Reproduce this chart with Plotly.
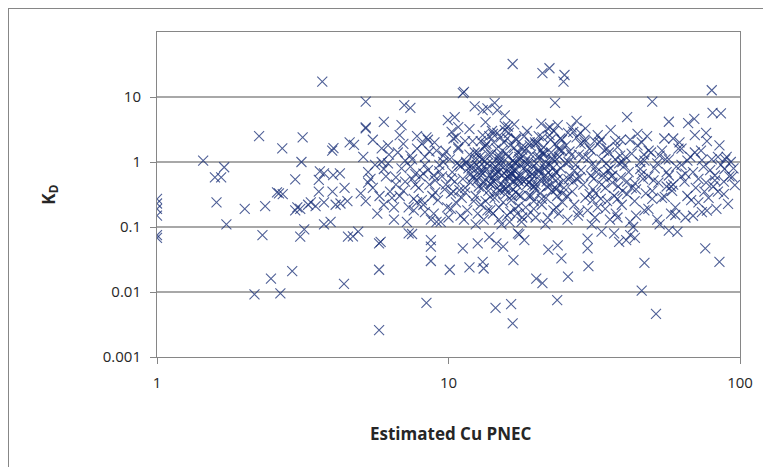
import plotly.graph_objects as go

# ---- data (Estimated Cu PNEC vs K_D) ----
pnec_left = [1.0, 1.0, 1.0, 1.0, 1.0, 1.0,
             1.44, 1.70, 1.58, 1.66, 1.60, 1.73, 2.0,
             2.24, 2.69, 2.35, 2.30, 2.16, 2.46, 2.65, 2.91, 2.62, 2.58, 2.70,
             3.16, 3.13, 2.98, 3.03, 2.98, 3.10, 3.20, 3.10, 3.69, 3.62, 3.74, 3.59, 3.59, 3.37, 3.74, 3.74, 3.94, 3.30, 3.50,
             4.03, 3.99, 4.58, 4.02, 4.24, 4.00, 4.26, 4.50, 4.52, 4.38, 4.90, 4.70, 4.10, 4.40, 4.74]
kd_left = [0.27, 0.23, 0.19, 0.15, 0.075, 0.068,
           1.05, 0.83, 0.58, 0.58, 0.24, 0.11, 0.19,
           2.5, 1.62, 0.21, 0.075, 0.0092, 0.016, 0.0095, 0.021, 0.33, 0.34, 0.32,
           2.4, 1.0, 0.54, 0.20, 0.18, 0.19, 0.092, 0.071, 17.2, 0.72, 0.67, 0.53, 0.35, 0.24, 0.24, 0.11, 0.12, 0.22, 0.21,
           1.63, 1.5, 2.0, 0.63, 0.67, 0.35, 0.23, 0.25, 0.071, 0.0133, 0.085, 0.072, 0.22, 0.40, 1.83]

pnec_f = [5.1, 5.3, 5.5, 5.2, 5.7, 5.9, 6.1, 6.3, 6.0, 6.5,
          6.7, 6.9, 7.1, 6.8, 7.3, 7.5, 7.7, 7.9, 7.6, 7.2,
          5.4, 6.2, 7.0, 7.8, 5.6, 6.6, 7.4, 5.0, 6.4, 7.6]
kd_f = [1.2, 0.7, 0.4, 0.25, 0.16, 1.0, 0.6, 0.35, 0.22, 0.13,
        1.4, 0.8, 0.5, 0.3, 0.2, 1.1, 0.65, 0.4, 0.27, 0.12,
        0.55, 1.8, 1.9, 1.6, 0.9, 0.45, 0.85, 0.33, 0.28, 0.18]

pnec_f2 = [5.3, 5.8, 6.2, 6.6, 7.0, 7.4, 7.8, 8.2, 8.6, 9.0,
           5.5, 6.0, 6.5, 7.1, 7.7, 8.3, 8.9, 6.8, 7.5, 8.1]
kd_f2 = [0.48, 0.3, 0.95, 0.58, 0.36, 1.25, 0.24, 0.66, 1.45, 0.34,
         2.2, 0.78, 0.2, 1.05, 0.45, 0.9, 0.62, 2.6, 0.55, 0.26]

pnec_up = [5.2, 7.05, 7.4, 5.2, 5.2, 6.0, 6.9, 9.95, 10.5, 11.3, 11.2, 13.1, 13.6, 14.4, 14.7, 15.6, 12.3,
           5.9, 6.25, 7.8, 8.5, 8.95, 10.8, 10.25, 15.6, 16.0, 14.7, 20.8, 21.9, 23.7, 25.7, 29.3, 30.9,
           16.6, 21.0, 22.2, 25.0, 24.8, 23.2,
           80, 50, 41, 57, 66.4, 69.7, 80.5, 86, 76.5, 59, 44.5]
kd_up = [8.5, 7.5, 6.8, 3.4, 3.3, 4.15, 3.7, 4.4, 4.9, 12.0, 11.5, 6.3, 6.7, 8.1, 6.3, 5.2, 7.2,
         1.62, 1.3, 2.5, 2.2, 2.0, 3.45, 2.9, 3.1, 3.5, 2.8, 3.9, 3.3, 3.7, 2.8, 2.2, 1.5,
         32.2, 23.3, 27.7, 21.8, 17.2, 8.1,
         12.7, 8.5, 4.9, 4.16, 3.95, 4.6, 5.7, 5.6, 2.8, 2.3, 2.7]

pnec_e = [40.5, 41.5, 42.5, 43.5, 44.5, 45.5, 46.5, 47.5, 48.5, 49.5,
          51, 52.5, 54, 55.5, 57, 58.5, 60, 61.5, 63, 64.5,
          66, 67.5, 69, 70.5, 72, 73.5, 75, 76.5, 78, 80,
          82, 84, 86, 88, 90, 92, 95, 42, 48, 55,
          62, 70, 77, 85, 44, 52, 58, 65, 74, 83,
          46, 53, 59, 66, 72, 79, 88, 93, 41, 50,
          56, 63, 68, 81,
          60, 69, 77, 91, 57, 61,
          46, 48.6, 63, 74, 84, 94, 89, 57]
kd_e = [1.2, 0.7, 0.4, 0.25, 1.8, 1.0, 0.55, 0.33, 0.19, 1.4,
        0.8, 0.48, 0.28, 1.1, 0.62, 0.36, 0.2, 1.6, 0.9, 0.5,
        0.3, 1.2, 0.7, 0.4, 0.24, 1.5, 0.85, 0.48, 0.28, 1.1,
        0.62, 0.35, 0.9, 0.5, 1.2, 0.6, 0.8, 2.2, 2.5, 2.3,
        2.0, 2.6, 2.1, 1.8, 0.15, 0.13, 0.16, 0.14, 0.17, 0.19,
        0.65, 1.25, 0.45, 1.05, 0.55, 0.75, 0.32, 1.0, 0.32, 0.27,
        0.42, 0.6, 0.26, 0.42,
        0.153, 0.149, 0.178, 0.226, 0.088, 0.084,
        2.0, 1.5, 1.6, 1.07, 1.2, 0.59, 1.1, 1.1]

pnec_d = [25.3, 25.8, 26.2, 26.6, 27.0, 27.5, 28.0, 28.5, 29.0, 29.5,
          30.0, 30.5, 31.0, 31.5, 32.0, 32.5, 33.0, 33.5, 34.0, 34.5,
          35.0, 35.5, 36.0, 36.5, 37.0, 37.5, 38.0, 38.5, 39.0, 39.5,
          26.0, 28.2, 30.2, 32.2, 34.2, 36.2, 38.2, 27.3, 29.3, 31.3,
          33.3, 35.3, 37.3, 39.3, 25.5, 27.8, 31.8, 35.8, 26.8, 30.8,
          34.8, 38.8,
          26.4, 28.3, 31.7, 33.4, 39.0]
kd_d = [1.8, 1.0, 0.6, 0.35, 0.22, 2.4, 1.3, 0.75, 0.45, 0.28,
        0.18, 1.6, 0.9, 0.55, 0.33, 0.2, 2.0, 1.1, 0.65, 0.4,
        0.25, 1.4, 0.8, 0.48, 0.3, 0.16, 1.7, 0.95, 0.58, 0.36,
        1.45, 0.58, 1.15, 0.7, 1.5, 0.6, 0.42, 0.9, 2.0, 0.38,
        0.27, 0.75, 1.1, 0.22, 0.3, 0.15, 0.14, 0.13, 0.5, 0.62,
        0.95, 1.25,
        3.4, 2.8, 2.1, 2.2, 2.2]

pnec_h = [27.5, 29.0, 30.5, 32.0, 33.5, 35.0, 36.5, 38.0, 39.5, 41.0,
          42.5, 44.0, 45.5, 47.0, 48.5, 50.0, 52.0, 54.0, 56.0, 58.0,
          28.4, 31.2, 34.1, 37.3, 40.2, 43.6, 46.8, 50.5, 55.2, 60.5,
          65.0, 70.0, 75.5, 82.0, 88.5, 96.0]
kd_h = [0.55, 1.2, 0.32, 0.85, 0.45, 1.6, 0.62, 0.27, 1.0, 0.5,
        1.35, 0.38, 0.78, 1.05, 0.6, 0.36, 0.95, 1.5, 0.7, 0.42,
        1.9, 0.26, 0.58, 2.1, 0.88, 0.47, 1.3, 0.52, 0.29, 0.85,
        0.66, 1.4, 0.35, 0.52, 0.78, 0.44]

pnec_i = [8.3, 9.1, 10.2, 11.0, 12.4, 13.6, 14.9, 16.3, 17.8, 19.6,
          21.5, 23.4, 25.6, 28.0, 31.0, 34.5, 38.0, 42.0, 47.0, 53.0,
          10.6, 11.8, 12.9, 14.2, 15.6, 17.0, 18.6, 20.4, 22.3, 24.5,
          26.8, 29.5, 32.5, 36.0, 13.4, 16.8, 19.0, 27.5]
kd_i = [0.17, 0.12, 0.19, 0.15, 0.11, 0.18, 0.13, 0.17, 0.12, 0.19,
        0.11, 0.2, 0.13, 0.17, 0.11, 0.19, 0.14, 0.12, 0.18, 0.11,
        2.4, 3.2, 2.1, 2.7, 3.6, 2.3, 3.0, 2.5, 3.4, 2.2,
        2.9, 3.3, 2.6, 3.1, 4.1, 3.8, 2.0, 4.3]

pnec_low = [5.78, 8.4, 14.5, 16.4, 16.6, 23.6, 46, 51.5,
            5.78, 10.1, 20, 21, 25.7, 11.8, 13.2, 13.1, 8.7, 16.7, 24.4, 30.2, 47, 85, 76, 30, 23.7,
            5.85, 5.78, 8.7, 11.2,
            7.5, 17.5, 15.4,
            30, 33.5, 38.5, 42, 43, 40.7, 43.6, 37,
            7.3, 8.7, 12.6, 13.8, 17.3, 18.2, 14.6, 22.0]
kd_low = [0.0026, 0.0068, 0.0057, 0.0065, 0.0033, 0.0075, 0.0105, 0.0046,
          0.022, 0.022, 0.016, 0.0137, 0.0172, 0.024, 0.023, 0.029, 0.030, 0.031, 0.033, 0.025, 0.028, 0.029, 0.047, 0.047, 0.052,
          0.059, 0.056, 0.05, 0.047,
          0.078, 0.077, 0.05,
          0.066, 0.085, 0.059, 0.075, 0.1, 0.063, 0.068, 0.08,
          0.08, 0.063, 0.056, 0.07, 0.08, 0.063, 0.056, 0.045]

pnec_a = [8.1, 8.3, 8.5, 8.6, 8.8, 8.2, 8.9, 9.1, 9.3, 9.5,
          9.7, 9.2, 9.9, 10.1, 10.3, 10.5, 10.2, 10.6, 10.8, 11.0,
          11.2, 11.4, 11.1, 11.6, 11.8, 11.9, 8.4, 9.0, 9.6, 10.4,
          10.9, 11.5, 8.7, 9.4, 10.0, 11.3, 11.7, 8.0, 9.8, 10.7]
kd_a = [1.9, 1.2, 0.75, 0.45, 0.3, 0.22, 0.16, 1.5, 0.9, 0.6,
        0.38, 0.26, 0.2, 1.1, 0.7, 0.5, 0.33, 0.24, 1.6, 0.85,
        0.55, 0.4, 0.28, 0.18, 1.3, 0.65, 2.4, 0.52, 1.25, 2.3,
        0.37, 1.0, 0.13, 0.12, 0.14, 0.13, 0.8, 0.6, 0.45, 0.95]

pnec_b = [12.1, 12.3, 12.5, 12.2, 12.7, 12.4, 12.9, 12.6,
          13.1, 13.3, 13.0, 13.5, 13.2, 13.7, 13.4, 13.9,
          14.1, 14.3, 14.0, 14.5, 14.2, 14.7, 14.4, 14.9,
          15.1, 15.3, 15.0, 15.5, 15.2, 15.7, 15.4, 15.9,
          16.1, 16.3, 16.0, 16.5, 16.2, 16.7, 16.4, 16.9,
          17.1, 17.3, 17.0, 17.5, 17.2, 17.7, 17.4, 17.9,
          12.8, 13.6, 14.6, 15.6, 16.6, 17.6, 12.0, 13.8, 14.8, 15.8, 16.8, 17.8,
          13.0, 14.0, 15.0, 16.0, 17.0, 12.5, 13.5, 14.5, 15.5, 16.5, 17.5,
          12.2, 14.2, 16.2, 13.2, 15.2, 17.2,
          14.8, 15.4, 13.7, 16.4, 12.9, 14.3, 16.9, 15.9, 13.3, 14.1, 17.3]
kd_b = [2.1, 1.4, 0.9, 0.6, 0.42, 0.3, 0.22, 0.16,
        2.6, 1.7, 1.1, 0.75, 0.5, 0.36, 0.25, 0.18,
        3.0, 2.0, 1.3, 0.85, 0.58, 0.4, 0.28, 0.2,
        2.4, 1.5, 1.0, 0.68, 0.46, 0.32, 0.24, 0.15,
        2.8, 1.8, 1.2, 0.8, 0.55, 0.38, 0.26, 0.19,
        2.2, 1.4, 0.95, 0.62, 0.44, 0.3, 0.21, 0.14,
        1.2, 0.95, 1.6, 0.55, 1.05, 0.9, 0.8, 0.62, 0.7, 1.35, 0.5, 1.7,
        0.4, 0.45, 0.36, 0.42, 0.34, 0.52, 1.9, 0.33, 2.0, 0.3, 1.2,
        0.25, 0.16, 0.12, 0.13, 0.11, 0.16,
        1.15, 0.82, 1.3, 0.66, 0.7, 0.5, 0.72, 0.6, 0.85, 0.95, 0.55]

pnec_c = [18.2, 18.5, 18.3, 18.8, 18.6, 18.9, 18.4,
          19.2, 19.5, 19.3, 19.8, 19.6,
          20.2, 20.5, 20.3, 20.8, 20.6, 20.9,
          21.2, 21.5, 21.3, 21.8, 21.6,
          22.2, 22.5, 22.3, 22.8, 22.6, 22.9,
          23.2, 23.5, 23.3, 23.8, 23.6,
          24.2, 24.5, 24.3, 24.8, 24.6,
          18.7, 19.9, 21.9, 23.9,
          19.0, 21.0, 23.0,
          20.0, 22.0, 24.0,
          18.1, 19.4, 20.7, 21.4, 22.7, 23.7, 24.9, 19.7, 21.7, 23.4]
kd_c = [2.5, 1.6, 1.0, 0.65, 0.45, 0.3, 0.2,
        1.3, 0.85, 0.55, 0.38, 0.25,
        2.0, 1.2, 0.75, 0.5, 0.33, 0.22,
        1.7, 1.0, 0.6, 0.42, 0.28,
        2.6, 1.4, 0.9, 0.58, 0.36, 0.18,
        1.9, 1.1, 0.7, 0.46, 0.3,
        2.3, 1.5, 0.8, 0.52, 0.24,
        0.15, 0.14, 0.14, 0.16,
        1.8, 2.4, 3.0,
        0.95, 0.68, 1.2,
        0.8, 0.65, 1.5, 0.8, 1.15, 0.55, 0.4, 0.42, 0.5, 0.38]

pnec_g = [9.3, 9.8, 10.4, 10.9, 11.4, 11.9, 12.4, 12.9, 13.4, 13.9,
          14.4, 14.9, 15.4, 15.9, 16.4, 16.9, 17.4, 17.9, 18.4, 18.9,
          19.4, 19.9, 20.4, 20.9, 21.4, 21.9, 22.4, 22.9, 23.4, 23.9,
          9.6, 10.2, 10.8, 11.4, 12.0, 12.6, 13.2, 13.8, 14.4, 15.0,
          15.6, 16.2, 16.8, 17.4, 18.0, 18.6, 19.2, 19.8, 20.4, 21.0,
          21.6, 22.2, 22.8, 23.4, 24.0, 24.6, 25.2, 25.8, 26.4, 27.0,
          12.1, 12.7, 13.3, 13.9, 14.5, 15.1, 15.7, 16.3, 16.9, 17.5,
          18.1, 18.7, 19.3, 19.9, 20.5, 21.1, 11.5, 13.0, 14.2, 15.3,
          16.1, 17.1, 18.9, 20.2]
kd_g = [0.72, 1.45, 0.35, 0.9, 2.1, 0.48, 1.15, 0.62, 1.8, 0.29,
        0.78, 1.25, 0.41, 2.3, 0.66, 0.98, 0.31, 1.55, 0.53, 1.05,
        0.44, 1.9, 0.7, 0.27, 1.35, 0.58, 2.2, 0.82, 0.39, 1.6,
        1.0, 0.56, 1.7, 0.34, 0.88, 1.4, 0.47, 2.5, 0.64, 1.12,
        0.37, 0.93, 1.65, 0.51, 1.22, 0.76, 0.3, 2.0, 0.6, 1.38,
        0.86, 0.43, 1.08, 0.69, 1.52, 0.33, 0.97, 0.54, 1.28, 0.74,
        0.57, 0.83, 1.02, 0.46, 0.68, 0.88, 0.4, 0.6, 0.79, 1.1,
        0.5, 0.92, 0.65, 0.45, 0.75, 1.3, 0.95, 0.7, 0.52, 0.63,
        0.8, 0.58, 0.49, 1.18]

x_ticks = [1, 10, 100]
x_tick_text = ["1", "10", "100"]
y_ticks = [0.001, 0.01, 0.1, 1, 10]
y_tick_text = ["0.001", "0.01", "0.1", "1", "10"]
x_title = "Estimated Cu PNEC"
y_title = "K<sub>D</sub>"

pnec = (pnec_left + pnec_f + pnec_f2 + pnec_up + pnec_e + pnec_d + pnec_h + pnec_i
        + pnec_low + pnec_a + pnec_b + pnec_c + pnec_g)
kd = (kd_left + kd_f + kd_f2 + kd_up + kd_e + kd_d + kd_h + kd_i
      + kd_low + kd_a + kd_b + kd_c + kd_g)

mark_col = "rgba(24,46,118,0.76)"
fig = go.Figure(go.Scatter(
    x=pnec, y=kd, mode="markers",
    marker=dict(symbol="x-thin", size=10, color=mark_col,
                line=dict(width=1.1, color=mark_col)),
    hoverinfo="skip"))

axis_col = "#868686"
txt_col = "#262626"
fig.update_layout(
    width=771, height=467,
    margin=dict(l=149, r=39, t=24, b=118),
    paper_bgcolor="white", plot_bgcolor="white",
    showlegend=False,
    font=dict(family="'Open Sans', Lato, sans-serif", size=15, color=txt_col),
)
fig.update_xaxes(type="log", range=[0, 2], tickvals=x_ticks, ticktext=x_tick_text,
                 showgrid=False, showline=True, linecolor=axis_col, linewidth=1,
                 mirror=True, ticks="outside", ticklen=6, tickcolor=axis_col,
                 ticklabelstandoff=6, zeroline=False)
fig.update_yaxes(type="log", range=[-3, 2], tickvals=y_ticks, ticktext=y_tick_text,
                 showgrid=True, gridcolor="#a8a8a8", gridwidth=1.5,
                 showline=True, linecolor=axis_col, linewidth=1,
                 mirror=True, ticks="outside", ticklen=6, tickcolor=axis_col,
                 ticklabelstandoff=6, zeroline=False)

fig.add_annotation(text="<b>" + x_title + "</b>", xref="paper", yref="paper", x=0.505, y=-0.235,
                   showarrow=False, font=dict(size=17, color=txt_col, family="'Open Sans'"),
                   xanchor="center", yanchor="middle")
fig.add_annotation(text="<b>" + y_title + "</b>", xref="paper", yref="paper", x=-0.185, y=0.50,
                   showarrow=False, textangle=-90, font=dict(size=17, color=txt_col, family="'Open Sans'"),
                   xanchor="center", yanchor="middle")

fig.add_shape(type="rect", xref="paper", yref="paper",
              x0=-0.2556, y0=-0.45, x1=1.12, y1=1.0738,
              line=dict(color=axis_col, width=2), fillcolor="rgba(0,0,0,0)", layer="below")

fig.write_html("out.html")
